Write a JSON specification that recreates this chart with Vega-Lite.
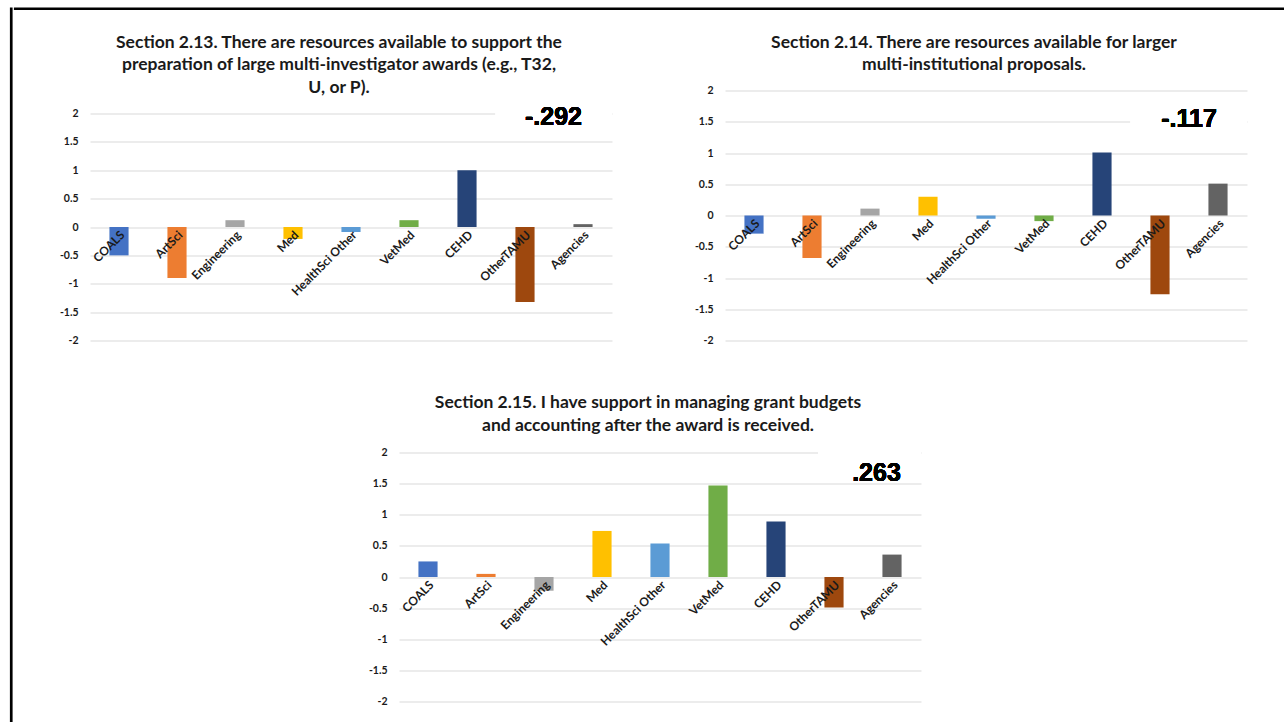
{
  "$schema": "https://vega.github.io/schema/vega-lite/v6.json",
  "background": "white",
  "padding": {"left": 9, "top": 6.5, "right": 0, "bottom": 0},
  "config": {
    "view": {"stroke": null},
    "title": {"font": "Lato", "fontWeight": "bold", "fontSize": 17.5, "color": "#1a1a1a", "lineHeight": 22.5, "frame": "group", "anchor": "middle", "dx": -12, "offset": 9},
    "axis": {"labelFont": "Lato", "labelFontWeight": "bold", "labelColor": "#1a1a1a", "gridColor": "#d9d9d9", "gridWidth": 1, "domain": false, "ticks": false, "title": null}
  },
  "datasets": {
    "s213": [
      {"group": "COALS", "value": -0.5},
      {"group": "ArtSci", "value": -0.9},
      {"group": "Engineering", "value": 0.12},
      {"group": "Med", "value": -0.21},
      {"group": "HealthSci Other", "value": -0.09},
      {"group": "VetMed", "value": 0.12},
      {"group": "CEHD", "value": 1.0},
      {"group": "OtherTAMU", "value": -1.32},
      {"group": "Agencies", "value": 0.05}
    ],
    "s214": [
      {"group": "COALS", "value": -0.29},
      {"group": "ArtSci", "value": -0.68},
      {"group": "Engineering", "value": 0.11},
      {"group": "Med", "value": 0.3},
      {"group": "HealthSci Other", "value": -0.05},
      {"group": "VetMed", "value": -0.09},
      {"group": "CEHD", "value": 1.01},
      {"group": "OtherTAMU", "value": -1.26},
      {"group": "Agencies", "value": 0.51}
    ],
    "s215": [
      {"group": "COALS", "value": 0.25},
      {"group": "ArtSci", "value": 0.05},
      {"group": "Engineering", "value": -0.22},
      {"group": "Med", "value": 0.74},
      {"group": "HealthSci Other", "value": 0.54},
      {"group": "VetMed", "value": 1.47},
      {"group": "CEHD", "value": 0.89},
      {"group": "OtherTAMU", "value": -0.49},
      {"group": "Agencies", "value": 0.36}
    ]
  },
  "columns": 2,
  "align": "none",
  "spacing": 0,
  "concat": [
    {
      "width": 0.5, "height": 740,
      "data": {"values": [{}]},
      "mark": {"type": "rect", "opacity": 0},
      "encoding": {},
      "view": {"stroke": "black", "strokeWidth": 2.2}
    },
    {
      "columns": 1,
      "align": "none",
      "spacing": 0,
      "concat": [
        {
          "width": 1300, "height": 0.5,
          "data": {"values": [{}]},
          "mark": {"type": "rect", "opacity": 0},
          "encoding": {},
          "view": {"stroke": "black", "strokeWidth": 2.2}
        },
        {
          "columns": 1,
          "align": "none",
          "spacing": 47,
          "concat": [
            {
              "columns": 2,
              "align": "none",
              "spacing": 0,
              "concat": [
                {
                  "width": 43.5, "height": 0.01,
                  "data": {"values": [{}]},
                  "mark": {"type": "rect", "opacity": 0},
                  "encoding": {}
                },
                {
                  "columns": 2,
                  "align": "none",
                  "spacing": 82,
                  "concat": [
                    {
                      "columns": 1,
                      "align": "none",
                      "spacing": 22,
                      "concat": [
                        {
                          "width": 0.01, "height": 0.01,
                          "data": {"values": [{}]},
                          "mark": {"type": "rect", "opacity": 0},
                          "encoding": {}
                        },
                        {
                          "width": 522, "height": 227,
                          "title": {"text": ["Section 2.13. There are resources available to support the", "preparation of large multi-investigator awards (e.g., T32,", "U, or P)."]},
                          "data": {"name": "s213"},
                          "resolve": {"scale": {"x": "independent", "y": "independent"}, "axis": {"x": "independent", "y": "independent"}},
                          "layer": [
                            {
                              "mark": {"type": "bar"},
                              "encoding": {
                                "x": {"field": "group", "type": "nominal", "sort": null,
                                      "scale": {"domain": ["COALS", "ArtSci", "Engineering", "Med", "HealthSci Other", "VetMed", "CEHD", "OtherTAMU", "Agencies"], "paddingInner": 0.67, "paddingOuter": 0.335},
                                      "axis": {"orient": "bottom", "offset": -113.5, "labelAngle": -45, "labelPadding": 2, "labelFontSize": 12, "labelOverlap": false, "labelBound": false, "labelFlush": false, "zindex": 1}},
                                "y": {"field": "value", "type": "quantitative",
                                      "scale": {"domain": [-2, 2]},
                                      "axis": {"orient": "left", "values": [-2, -1.5, -1, -0.5, 0, 0.5, 1, 1.5, 2], "labelExpr": "datum.value < 0 ? '-' + format(-datum.value, '~g') : format(datum.value, '~g')", "labelFontSize": 10.5, "labelPadding": 12, "labelOverlap": false}},
                                "color": {"field": "group", "type": "nominal", "legend": null,
                                          "scale": {"domain": ["COALS", "ArtSci", "Engineering", "Med", "HealthSci Other", "VetMed", "CEHD", "OtherTAMU", "Agencies"], "range": ["#4472C4", "#ED7D31", "#A5A5A5", "#FFC000", "#5B9BD5", "#70AD47", "#264478", "#9E480E", "#636363"]}}
                              }
                            },
                            {
                              "mark": {"type": "rect", "color": "white"},
                              "encoding": {
                                "x": {"datum": "CEHD", "bandPosition": 2, "type": "nominal", "axis": null,
                                      "scale": {"domain": ["COALS", "ArtSci", "Engineering", "Med", "HealthSci Other", "VetMed", "CEHD", "OtherTAMU", "Agencies"], "paddingInner": 0.67, "paddingOuter": 0.335}},
                                "x2": {"datum": "Agencies", "bandPosition": 2},
                                "y": {"datum": 1.9, "type": "quantitative", "axis": null, "scale": {"domain": [-2, 2]}},
                                "y2": {"datum": 2.05}
                              }
                            },
                            {
                              "mark": {"type": "text", "text": "-.292", "font": "Liberation Sans", "fontWeight": "bold", "fontSize": 25, "align": "center", "baseline": "alphabetic", "color": "#000000", "dx": -29.5},
                              "encoding": {
                                "x": {"datum": "Agencies", "type": "nominal", "axis": null,
                                      "scale": {"domain": ["COALS", "ArtSci", "Engineering", "Med", "HealthSci Other", "VetMed", "CEHD", "OtherTAMU", "Agencies"], "paddingInner": 0.67, "paddingOuter": 0.335}},
                                "y": {"datum": 1.79, "type": "quantitative", "axis": null, "scale": {"domain": [-2, 2]}}
                              }
                            }
                          ]
                        }
                      ]
                    },
                    {
                      "columns": 1,
                      "align": "none",
                      "spacing": 22,
                      "concat": [
                        {
                          "width": 0.01, "height": 0.01,
                          "data": {"values": [{}]},
                          "mark": {"type": "rect", "opacity": 0},
                          "encoding": {}
                        },
                        {
                          "width": 522, "height": 250,
                          "title": {"text": ["Section 2.14. There are resources available for larger", "multi-institutional proposals."], "offset": 12},
                          "data": {"name": "s214"},
                          "resolve": {"scale": {"x": "independent", "y": "independent"}, "axis": {"x": "independent", "y": "independent"}},
                          "layer": [
                            {
                              "mark": {"type": "bar"},
                              "encoding": {
                                "x": {"field": "group", "type": "nominal", "sort": null,
                                      "scale": {"domain": ["COALS", "ArtSci", "Engineering", "Med", "HealthSci Other", "VetMed", "CEHD", "OtherTAMU", "Agencies"], "paddingInner": 0.67, "paddingOuter": 0.335},
                                      "axis": {"orient": "bottom", "offset": -125, "labelAngle": -45, "labelPadding": 2, "labelFontSize": 12, "labelOverlap": false, "labelBound": false, "labelFlush": false, "zindex": 1}},
                                "y": {"field": "value", "type": "quantitative",
                                      "scale": {"domain": [-2, 2]},
                                      "axis": {"orient": "left", "values": [-2, -1.5, -1, -0.5, 0, 0.5, 1, 1.5, 2], "labelExpr": "datum.value < 0 ? '-' + format(-datum.value, '~g') : format(datum.value, '~g')", "labelFontSize": 10.5, "labelPadding": 12, "labelOverlap": false}},
                                "color": {"field": "group", "type": "nominal", "legend": null,
                                          "scale": {"domain": ["COALS", "ArtSci", "Engineering", "Med", "HealthSci Other", "VetMed", "CEHD", "OtherTAMU", "Agencies"], "range": ["#4472C4", "#ED7D31", "#A5A5A5", "#FFC000", "#5B9BD5", "#70AD47", "#264478", "#9E480E", "#636363"]}}
                              }
                            },
                            {
                              "mark": {"type": "rect", "color": "white"},
                              "encoding": {
                                "x": {"datum": "CEHD", "bandPosition": 2, "type": "nominal", "axis": null,
                                      "scale": {"domain": ["COALS", "ArtSci", "Engineering", "Med", "HealthSci Other", "VetMed", "CEHD", "OtherTAMU", "Agencies"], "paddingInner": 0.67, "paddingOuter": 0.335}},
                                "x2": {"datum": "Agencies", "bandPosition": 2},
                                "y": {"datum": 1.4, "type": "quantitative", "axis": null, "scale": {"domain": [-2, 2]}},
                                "y2": {"datum": 1.6}
                              }
                            },
                            {
                              "mark": {"type": "text", "text": "-.117", "font": "Liberation Sans", "fontWeight": "bold", "fontSize": 25, "align": "center", "baseline": "alphabetic", "color": "#000000", "dx": -29},
                              "encoding": {
                                "x": {"datum": "Agencies", "type": "nominal", "axis": null,
                                      "scale": {"domain": ["COALS", "ArtSci", "Engineering", "Med", "HealthSci Other", "VetMed", "CEHD", "OtherTAMU", "Agencies"], "paddingInner": 0.67, "paddingOuter": 0.335}},
                                "y": {"datum": 1.42, "type": "quantitative", "axis": null, "scale": {"domain": [-2, 2]}}
                              }
                            }
                          ]
                        }
                      ]
                    }
                  ]
                }
              ]
            },
            {
              "columns": 2,
              "align": "none",
              "spacing": 0,
              "concat": [
                {
                  "width": 352.5, "height": 0.01,
                  "data": {"values": [{}]},
                  "mark": {"type": "rect", "opacity": 0},
                  "encoding": {}
                },
                {
                  "width": 522, "height": 249,
                  "title": {"text": ["Section 2.15. I have support in managing grant budgets", "and accounting after the award is received."], "offset": 13.5},
                  "data": {"name": "s215"},
                  "resolve": {"scale": {"x": "independent", "y": "independent"}, "axis": {"x": "independent", "y": "independent"}},
                  "layer": [
                    {
                      "mark": {"type": "bar"},
                      "encoding": {
                        "x": {"field": "group", "type": "nominal", "sort": null,
                              "scale": {"domain": ["COALS", "ArtSci", "Engineering", "Med", "HealthSci Other", "VetMed", "CEHD", "OtherTAMU", "Agencies"], "paddingInner": 0.67, "paddingOuter": 0.335},
                              "axis": {"orient": "bottom", "offset": -124.5, "labelAngle": -45, "labelPadding": 2, "labelFontSize": 12, "labelOverlap": false, "labelBound": false, "labelFlush": false, "zindex": 1}},
                        "y": {"field": "value", "type": "quantitative",
                              "scale": {"domain": [-2, 2]},
                              "axis": {"orient": "left", "values": [-2, -1.5, -1, -0.5, 0, 0.5, 1, 1.5, 2], "labelExpr": "datum.value < 0 ? '-' + format(-datum.value, '~g') : format(datum.value, '~g')", "labelFontSize": 10.5, "labelPadding": 12, "labelOverlap": false}},
                        "color": {"field": "group", "type": "nominal", "legend": null,
                                  "scale": {"domain": ["COALS", "ArtSci", "Engineering", "Med", "HealthSci Other", "VetMed", "CEHD", "OtherTAMU", "Agencies"], "range": ["#4472C4", "#ED7D31", "#A5A5A5", "#FFC000", "#5B9BD5", "#70AD47", "#264478", "#9E480E", "#636363"]}}
                      }
                    },
                    {
                      "mark": {"type": "rect", "color": "white"},
                      "encoding": {
                        "x": {"datum": "CEHD", "bandPosition": 2.7, "type": "nominal", "axis": null,
                              "scale": {"domain": ["COALS", "ArtSci", "Engineering", "Med", "HealthSci Other", "VetMed", "CEHD", "OtherTAMU", "Agencies"], "paddingInner": 0.67, "paddingOuter": 0.335}},
                        "x2": {"datum": "Agencies", "bandPosition": 2},
                        "y": {"datum": 1.9, "type": "quantitative", "axis": null, "scale": {"domain": [-2, 2]}},
                        "y2": {"datum": 2.05}
                      }
                    },
                    {
                      "mark": {"type": "text", "text": ".263", "font": "Liberation Sans", "fontWeight": "bold", "fontSize": 25, "align": "center", "baseline": "alphabetic", "color": "#000000", "dx": -15.5},
                      "encoding": {
                        "x": {"datum": "Agencies", "type": "nominal", "axis": null,
                              "scale": {"domain": ["COALS", "ArtSci", "Engineering", "Med", "HealthSci Other", "VetMed", "CEHD", "OtherTAMU", "Agencies"], "paddingInner": 0.67, "paddingOuter": 0.335}},
                        "y": {"datum": 1.55, "type": "quantitative", "axis": null, "scale": {"domain": [-2, 2]}}
                      }
                    }
                  ]
                }
              ]
            }
          ]
        }
      ]
    }
  ]
}
